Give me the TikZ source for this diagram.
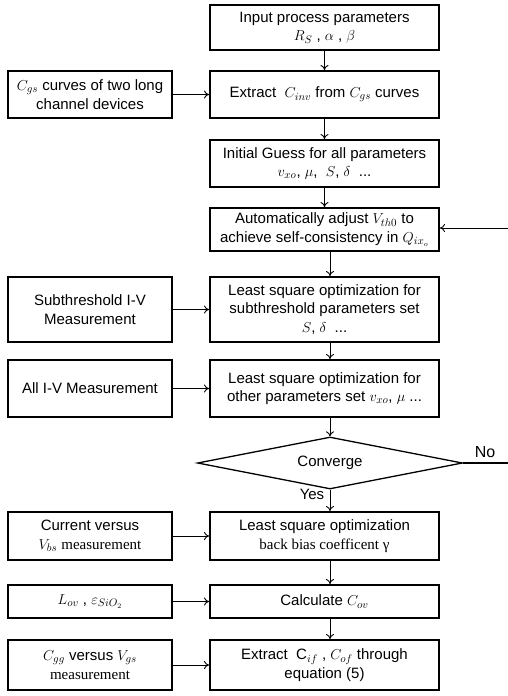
\documentclass[tikz,border=0pt]{standalone}
\usepackage{fontspec}
\setmainfont{Liberation Sans}
\newfontfamily\serifpart{Liberation Serif}
\usepackage{tikz}
\usetikzlibrary{shapes.geometric}
\usetikzlibrary{arrows.meta}

\begin{document}
\begin{tikzpicture}[x=1pt,y=-1pt]
\tikzstyle{cell}=[rectangle,draw,line width=2pt,minimum width=229pt,align=center,inner sep=1pt,font=\fontsize{15}{18.5}\selectfont]
\tikzstyle{src}=[cell,minimum width=164pt]
\tikzstyle{flow}=[line width=0.9pt,-{To[length=5pt,width=8pt]}]

\useasboundingbox (0,0) rectangle (508,696);

% main column
\node[cell,minimum height=45pt] (c1) at (324.5,27.5) {Input process parameters\\ $R_S$ , $\alpha$ , $\beta$} ;
\node[cell,minimum height=47pt] (c2) at (324.5,94.5) {Extract \ $C_{inv}$ from $C_{gs}$ curves} ;
\node[cell,minimum height=47pt] (c3) at (324.5,163.5) {Initial Guess for all parameters\\ $v_{xo}$, $\mu$, \ $S$, $\delta$ \ ...} ;
\node[cell,minimum height=43pt] (c4) at (324.5,229.5) {Automatically adjust $V_{th0}$ to\\ achieve self-consistency in $Q_{ix_o}$} ;
\node[cell,minimum height=65pt] (c5) at (324.5,309.5) {Least square optimization for\\ subthreshold parameters set\\ $S$, $\delta$ \ ...} ;
\node[cell,minimum height=57pt] (c6) at (324.5,388.5) {Least square optimization for\\ other parameters set $v_{xo}$, $\mu$ ...} ;
\node[diamond,draw,line width=1.3pt,inner sep=0pt,minimum width=265pt,minimum height=52pt,aspect=5.1,font=\fontsize{15}{18}\selectfont] (conv) at (330,463) {Converge} ;
\node[cell,minimum height=48pt] (c7) at (324.5,536) {Least square optimization\\ {\serifpart back bias coefficent γ}} ;
\node[cell,minimum height=33pt] (c8) at (324.5,601.5) {Calculate $C_{ov}$} ;
\node[cell,minimum height=50pt] (c9) at (324.5,665) {Extract \ $\mathrm{C}_{if}$ , $C_{of}$ through\\ equation (5)} ;

% measured inputs
\node[src,minimum height=47pt] (m2) at (90,94.5) {$C_{gs}$ curves of two long\\ channel devices} ;
\node[src,minimum height=65pt] (m5) at (90,309.5) {Subthreshold I-V\\ Measurement} ;
\node[src,minimum height=57pt] (m6) at (90,388.5) {All I-V Measurement} ;
\node[src,minimum height=48pt] (m7) at (90,536) {Current versus\\ $V_{bs}$ {\serifpart measurement}} ;
\node[src,minimum height=33pt] (m8) at (90,601.5) {$L_{ov}$ , $\varepsilon_{SiO_2}$} ;
\node[src,minimum height=50pt] (m9) at (90,665) {$C_{gg}$ versus $V_{gs}$\\ {\serifpart measurement}} ;

\node[font=\fontsize{16}{18}\selectfont] (no) at (485,452) {No} ;
\node[font=\fontsize{15}{18}\selectfont] (yes) at (312,494) {Yes} ;
\coordinate (back) at (508,463) ;
\coordinate (again) at (508,228) ;

\draw[flow] (c1) -- (c2) ;
\draw[flow] (c2) -- (c3) ;
\draw[flow] (c3) -- (c4) ;
\draw[flow] (conv.north |- c4.south) -- (conv.north |- c5.north) ;
\draw[flow] (conv.north |- c5.south) -- (conv.north |- c6.north) ;
\draw[flow] (conv.north |- c6.south) -- (conv.north) ;
\draw[flow] (conv.south) -- (conv.south |- c7.north) ;
\draw[flow] (conv.south |- c7.south) -- (conv.south |- c8.north) ;
\draw[flow] (conv.south |- c8.south) -- (conv.south |- c9.north) ;

\draw[flow] (m2) -- (c2) ;
\draw[flow] (m5) -- (c5) ;
\draw[flow] (m6) -- (c6) ;
\draw[flow] (m7) -- (c7) ;
\draw[flow] (m8) -- (c8) ;
\draw[flow] (m9) -- (c9) ;

\draw[line width=1.3pt] (conv.east) -- (back) ;
\draw[flow] (again) -- (again -| c4.east) ;

\end{tikzpicture}
\end{document}
